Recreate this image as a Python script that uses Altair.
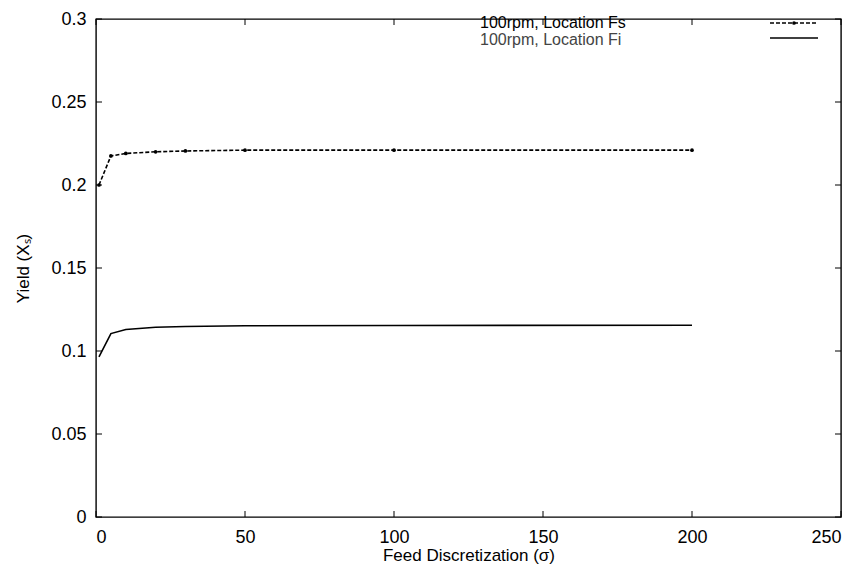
import altair as alt
import pandas as pd

sigma = [1, 5, 10, 20, 30, 50, 100, 200]
yield_fs = [0.200, 0.2175, 0.219, 0.220, 0.2205, 0.221, 0.221, 0.221]
yield_fi = [0.0964, 0.1105, 0.113, 0.1143, 0.1148, 0.1152, 0.1154, 0.1155]
x_ticks = [0, 50, 100, 150, 200, 250]
y_ticks = [0, 0.05, 0.1, 0.15, 0.2, 0.25, 0.3]
legend_labels = ["100rpm, Location Fs", "100rpm, Location Fi"]

W, H = 745, 498
FONT = "Liberation Sans"

df_fs = pd.DataFrame({"sigma": sigma, "y": yield_fs})
df_fi = pd.DataFrame({"sigma": sigma, "y": yield_fi})
df_xt = pd.DataFrame({"t": x_ticks})
df_yt = pd.DataFrame({"t": y_ticks})

xscale = alt.Scale(domain=[0, 250], nice=False)
yscale = alt.Scale(domain=[0, 0.3], nice=False)

xax = alt.Axis(values=x_ticks, title="Feed Discretization (σ)", ticks=False, domain=False,
               grid=False, labelFont=FONT, labelFontSize=18, labelColor="black",
               labelPadding=11, titleFont=FONT, titleFontSize=17, titleFontWeight="normal",
               titleColor="black", titlePadding=1)
yax = alt.Axis(values=y_ticks, format="~g", title="Yield (Xₛ)", ticks=False, domain=False,
               grid=False, labelFont=FONT, labelFontSize=18, labelColor="black",
               labelPadding=10, titleFont=FONT, titleFontSize=17, titleFontWeight="normal",
               titleColor="black", titlePadding=18)

fs_line = alt.Chart(df_fs).mark_line(color="black", strokeWidth=1.6, strokeDash=[4, 2]).encode(
    x=alt.X("sigma:Q", scale=xscale, axis=xax),
    y=alt.Y("y:Q", scale=yscale, axis=yax),
)
fs_pts = alt.Chart(df_fs).mark_point(color="black", filled=True, size=14, opacity=1).encode(
    x=alt.X("sigma:Q", scale=xscale),
    y=alt.Y("y:Q", scale=yscale),
)
fi_line = alt.Chart(df_fi).mark_line(color="black", strokeWidth=1.6).encode(
    x=alt.X("sigma:Q", scale=xscale),
    y=alt.Y("y:Q", scale=yscale),
)

TL = 6
xt_bottom = alt.Chart(df_xt).mark_rule(color="black").encode(
    x=alt.X("t:Q", scale=xscale), y=alt.value(H), y2=alt.value(H - TL))
xt_top = alt.Chart(df_xt).mark_rule(color="black").encode(
    x=alt.X("t:Q", scale=xscale), y=alt.value(0), y2=alt.value(TL))
yt_left = alt.Chart(df_yt).mark_rule(color="black").encode(
    y=alt.Y("t:Q", scale=yscale), x=alt.value(0), x2=alt.value(TL))
yt_right = alt.Chart(df_yt).mark_rule(color="black").encode(
    y=alt.Y("t:Q", scale=yscale), x=alt.value(W - TL), x2=alt.value(W))

# legend (top right, inside the frame)
leg_df = pd.DataFrame({"label": legend_labels})
leg_fs_text = alt.Chart(leg_df.iloc[[0]]).mark_text(
    align="left", baseline="middle", font=FONT, fontSize=16, color="black").encode(
    text="label:N", x=alt.value(384), y=alt.value(4))
leg_fi_text = alt.Chart(leg_df.iloc[[1]]).mark_text(
    align="left", baseline="middle", font=FONT, fontSize=16, color="#444444").encode(
    text="label:N", x=alt.value(384), y=alt.value(21))
leg_fs_line = alt.Chart(leg_df.iloc[[0]]).mark_rule(color="black", strokeWidth=1.4, strokeDash=[4, 2]).encode(
    x=alt.value(674), x2=alt.value(722), y=alt.value(4))
leg_fs_pt = alt.Chart(leg_df.iloc[[0]]).mark_point(color="black", filled=True, size=14, opacity=1).encode(
    x=alt.value(698), y=alt.value(4))
leg_fi_line = alt.Chart(leg_df.iloc[[1]]).mark_rule(color="black", strokeWidth=1.4).encode(
    x=alt.value(674), x2=alt.value(722), y=alt.value(19))

chart = alt.layer(
    fs_line, fs_pts, fi_line, xt_bottom, xt_top, yt_left, yt_right,
    leg_fs_text, leg_fi_text, leg_fs_line, leg_fs_pt, leg_fi_line,
).properties(
    width=W, height=H,
    autosize=alt.AutoSizeParams(type="none"),
    padding={"left": 88, "top": 11, "right": 5, "bottom": 50},
    background="white",
).configure_view(stroke="black", strokeWidth=1.4)

chart.save("out.html", embed_options={"renderer": "svg", "actions": False})
